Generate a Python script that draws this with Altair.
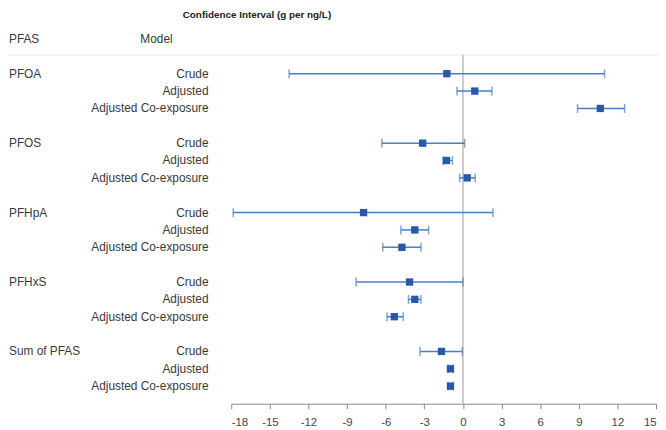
import altair as alt
import pandas as pd

pfas = ["PFOA", "PFOS", "PFHpA", "PFHxS", "Sum of PFAS"]
models = ["Crude", "Adjusted", "Adjusted Co-exposure"]
estimate = [-1.25, 0.92, 10.67, -3.13, -1.28, 0.33, -7.72, -3.74, -4.74,
            -4.15, -3.74, -5.33, -1.67, -0.97, -0.97]
lower = [-13.5, -0.46, 8.9, -6.3, -1.54, -0.26, -17.85, -4.82, -6.23,
         -8.3, -4.23, -5.9, -3.33, -1.15, -1.15]
upper = [11.0, 2.25, 12.56, 0.13, -0.82, 0.95, 2.33, -2.67, -3.26,
         0.0, -3.26, -4.64, -0.05, -0.77, -0.77]
x_ticks = list(range(-18, 16, 3))
title_text = "Confidence Interval (g per ng/L)"

FONT = "Liberation Sans"
TXT = "#3a3a3a"
BAR = "#4a7cc8"
PT = "#2659aa"

# build rows
rows = []
domain = ["hdr", "gap0"]
k = 0
for i, p in enumerate(pfas):
    for j, m in enumerate(models):
        key = f"{p}|{m}"
        domain.append(key)
        rows.append({"key": key, "pfas_label": p if j == 0 else "", "model": m,
                     "est": estimate[k], "lo": lower[k], "hi": upper[k]})
        k += 1
    if i < len(pfas) - 1:
        domain.append(f"gap{i+1}")
df = pd.DataFrame(rows)
hdr = pd.DataFrame([{"key": "hdr", "a": "PFAS", "b": "Model"}])

xs = alt.Scale(domain=[-18, 15], nice=False, zero=False)
AX = alt.Axis(values=x_ticks, domainColor="#888", tickColor="#888",
              tickSize=5, labelFontSize=11.5, labelColor="#444",
              labelFont=FONT, grid=False, labelPadding=8,
              labelOverlap=False, labelExpr="'' + datum.value",
              domainWidth=1, title=None)
ysc = alt.Scale(type="point", domain=domain, range=[20, 389])
Y = alt.Y("key:N", scale=ysc, axis=None, title=None)

base = alt.Chart(df)

errbar = base.mark_rule(color=BAR, strokeWidth=1.5).encode(
    x=alt.X("lo:Q", scale=xs, title=None, axis=AX),
    x2="hi:Q", y=Y)
cap_lo = base.mark_tick(color=BAR, thickness=1.5, size=9).encode(
    x=alt.X("lo:Q", scale=xs, title=None, axis=AX), y=Y)
cap_hi = base.mark_tick(color=BAR, thickness=1.5, size=9).encode(
    x=alt.X("hi:Q", scale=xs, title=None, axis=AX), y=Y)
points = base.mark_square(color=PT, size=55, opacity=1).encode(
    x=alt.X("est:Q", scale=xs, title=None, axis=AX), y=Y)

model_text = base.mark_text(align="right", baseline="middle", fontSize=12,
                            font=FONT, color=TXT).encode(
    x=alt.value(-23), y=Y, text="model:N")
pfas_text = base.mark_text(align="left", baseline="middle", fontSize=12,
                           font=FONT, color=TXT).encode(
    x=alt.value(-225), y=Y, text="pfas_label:N")

hbase = alt.Chart(hdr)
hdr_a = hbase.mark_text(align="left", baseline="middle", fontSize=12,
                        font=FONT, color=TXT).encode(
    x=alt.value(-225), y=Y, text="a:N")
hdr_b = hbase.mark_text(align="left", baseline="middle", fontSize=12,
                        font=FONT, color=TXT).encode(
    x=alt.value(-92), y=Y, text="b:N")

top_line = alt.Chart(pd.DataFrame({"v": [0]})).mark_rule(
    color="#e6e6e6", strokeWidth=1).encode(
    x=alt.value(-226), x2=alt.value(432), y=alt.value(45))
zero_line = alt.Chart(pd.DataFrame({"v": [0]})).mark_rule(
    color="#bbbbbb", strokeWidth=1.5).encode(
    x=alt.X("v:Q", scale=xs, title=None, axis=AX),
    y=alt.value(45), y2=alt.value(398))

title = alt.Chart(pd.DataFrame({"t": [title_text]})).mark_text(
    align="center", baseline="middle", fontSize=10, fontWeight="bold",
    font=FONT, color="#222").encode(
    x=alt.value(26), y=alt.value(5), text="t:N")

chart = alt.layer(
    top_line, zero_line, errbar, cap_lo, cap_hi, points,
    model_text, pfas_text, hdr_a, hdr_b, title
).properties(
    width=430, height=398,
    padding={"left": 226, "top": 0, "right": 2, "bottom": 24},
    autosize=alt.AutoSizeParams(type="none"),
).configure_view(stroke=None)

chart.save("out.html", embed_options={"renderer": "svg", "actions": False})
